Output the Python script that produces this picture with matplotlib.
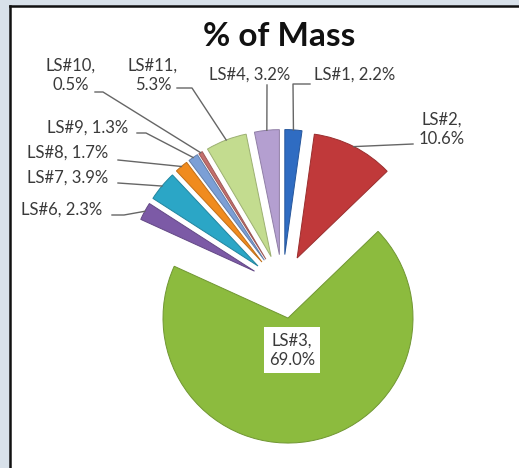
import matplotlib
matplotlib.use('Agg')
import matplotlib.pyplot as plt
from matplotlib.patches import Rectangle
from matplotlib.lines import Line2D
import numpy as np

plt.rcParams['font.family'] = ['Lato', 'DejaVu Sans']

# slices in drawing order (clockwise from 12 o'clock)
names = ['LS#1', 'LS#2', 'LS#3', 'LS#6', 'LS#7', 'LS#8', 'LS#9', 'LS#10', 'LS#11', 'LS#4']
mass_pct = [2.2, 10.6, 69.0, 2.3, 3.9, 1.7, 1.3, 0.5, 5.3, 3.2]
two_line = [False, True, True, False, False, False, False, True, True, False]
colors = ['#2f6cc2', '#c0393a', '#8cbb3e', '#7c5aa6', '#2ba6c6', '#f08b1e',
          '#7b9fd6', '#c46f6d', '#c3dc8f', '#b49fd0']

W, H = 519, 468
CX, CY, R = 282.6, 286.5, 125.0   # pie centre / radius in pixels


def px(x, y):
    # pixel position -> data coords (pie radius = 1)
    return (x - CX) / R, (CY - y) / R


# label layout in pixels
text_pos = [(355, 75), (442, 129), (292, 350), (62, 210), (68, 178), (68, 153),
            (88, 128), (71, 75), (153, 75), (250, 75)]
line_start = [(310, 84), (413, 144), None, (112, 215), (118, 183), (118, 160),
              (137, 133), (95, 92), (177, 88), (267, 85)]
line_elbow = [(293, 84), None, None, (124, 215), None, None,
              (146, 133), (103, 92), (192, 88), None]

fig = plt.figure(figsize=(W / 100, H / 100), dpi=100, facecolor='#d8e1ea')
fig.patches.append(Rectangle((10 / W, 0), 1, 1 - 6 / H, transform=fig.transFigure,
                             facecolor='white', edgecolor='none', zorder=-10))
fig.lines.append(Line2D([10 / W, 10 / W], [0, 1 - 6 / H], transform=fig.transFigure,
                        color='#111111', lw=1.8, zorder=-9))
fig.lines.append(Line2D([10 / W, 1], [1 - 6 / H, 1 - 6 / H], transform=fig.transFigure,
                        color='#111111', lw=1.8, zorder=-9))

ax = fig.add_axes([0, 0, 1, 1])
ax.patch.set_alpha(0)

edge = [tuple(np.array(matplotlib.colors.to_rgb(c)) * 0.8) for c in colors]
wedges, _ = ax.pie(mass_pct, colors=colors, startangle=90, counterclock=False,
                   explode=[0.256] * len(mass_pct), radius=1,
                   wedgeprops=dict(linewidth=0.7))
for w, ec in zip(wedges, edge):
    w.set_edgecolor(ec)

lab_kw = dict(ha='center', va='center', fontsize=12, color='#3a3a3a', linespacing=1.25)
for i, w in enumerate(wedges):
    sep = '\n' if two_line[i] else ' '
    txt = f'{names[i]},{sep}{mass_pct[i]:.1f}%'
    tx, ty = px(*text_pos[i])
    if line_start[i] is None:
        ax.text(tx, ty, txt, **lab_kw,
                bbox=dict(boxstyle='square,pad=0.3', facecolor='white', edgecolor='none'))
        continue
    ax.text(tx, ty, txt, **lab_kw)
    tm = np.deg2rad((w.theta1 + w.theta2) / 2)
    ex = w.center[0] + w.r * np.cos(tm)
    ey = w.center[1] + w.r * np.sin(tm)
    pts = [px(*line_start[i])]
    if line_elbow[i] is not None:
        pts.append(px(*line_elbow[i]))
    pts.append((ex, ey))
    xs, ys = zip(*pts)
    ax.plot(xs, ys, color='#666666', lw=1.0)

tx, ty = px(279, 36)
ax.text(tx, ty, '% of Mass', ha='center', va='center', fontsize=24,
        fontweight='bold', color='#111111')

ax.set_xlim(-CX / R, (W - CX) / R)
ax.set_ylim((CY - H) / R, CY / R)
ax.set_aspect('auto')
ax.axis('off')

fig.savefig('out.png', dpi=100, facecolor=fig.get_facecolor())
